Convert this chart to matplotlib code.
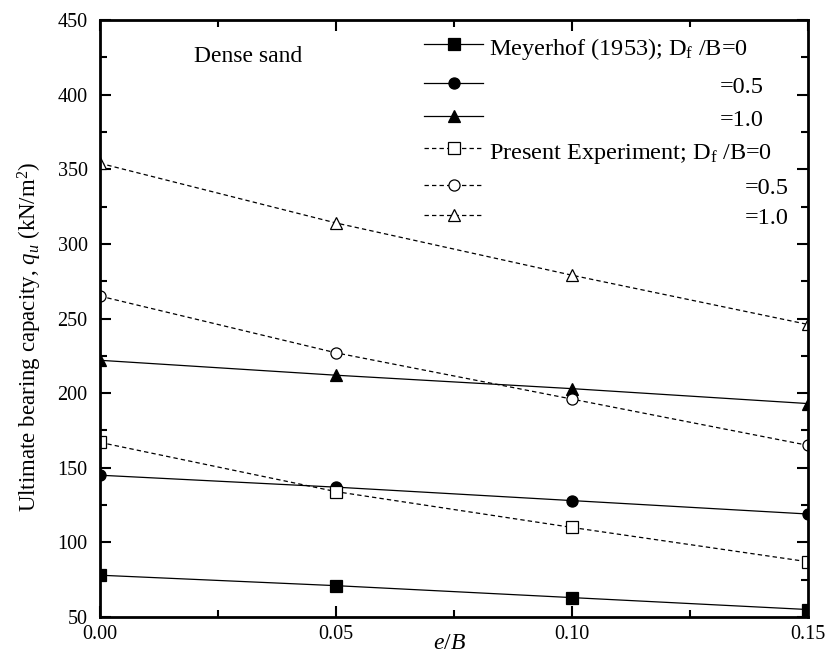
import matplotlib
matplotlib.use("Agg")
import matplotlib.pyplot as plt
from matplotlib.ticker import MultipleLocator, FormatStrFormatter

plt.rcParams['font.family'] = ['Liberation Serif', 'DejaVu Serif']
plt.rcParams['mathtext.fontset'] = 'custom'
plt.rcParams['mathtext.rm'] = 'Liberation Serif'
plt.rcParams['mathtext.it'] = 'Liberation Serif:italic'

eB = [0.0, 0.05, 0.10, 0.15]
mey_0 = [78, 71, 63, 55]
mey_05 = [145, 137, 128, 119]
mey_10 = [222, 212, 203, 193]
exp_0 = [167, 134, 110, 87]
exp_05 = [265, 227, 196, 165]
exp_10 = [354, 314, 279, 246]

fig = plt.figure(figsize=(8.3, 6.64), dpi=100)
ax = fig.add_axes([100/830, 1-617/664, 708/830, 597/664])

ms = 8
lw = 0.9
dash = (0, (3.5, 2.5))
series = [
    (mey_0, 's', 'k', '-'),
    (mey_05, 'o', 'k', '-'),
    (mey_10, '^', 'k', '-'),
    (exp_0, 's', 'white', dash),
    (exp_05, 'o', 'white', dash),
    (exp_10, '^', 'white', dash),
]
for vals, m, fc, ls in series:
    ax.plot(eB, vals, color='k', lw=lw, ls=ls, marker=m, ms=ms + (1 if m == '^' else 0),
            mfc=fc, mec='k', mew=0.9)

ax.set_xlim(0, 0.15)
ax.set_ylim(50, 450)
ax.xaxis.set_major_locator(MultipleLocator(0.05))
ax.xaxis.set_minor_locator(MultipleLocator(0.025))
ax.xaxis.set_major_formatter(FormatStrFormatter('%.2f'))
ax.yaxis.set_major_locator(MultipleLocator(50))
ax.yaxis.set_minor_locator(MultipleLocator(25))
ax.tick_params(which='both', direction='in', top=True, right=True, labelsize=14.5, width=1.5)
ax.tick_params(which='major', length=8, pad=6)
ax.tick_params(axis='y', which='major', pad=9)
ax.tick_params(which='minor', length=5)
for s in ax.spines.values():
    s.set_linewidth(2)

ax.set_xlabel(r'$e$/$B$', fontsize=17)
ax.xaxis.set_label_coords(0.494, -0.044)
ax.xaxis.label.set_va('center')
ax.set_ylabel(r'Ultimate bearing capacity, $q_u$ (kN/m$^2$)', fontsize=16.5)
ax.yaxis.set_label_coords(-0.099, 0.469)
ax.yaxis.label.set_va('center')

ax.text((248-100)/708, (617-57)/597, 'Dense sand', transform=ax.transAxes,
        fontsize=17, ha='center', va='center')

# manual legend (right-aligned labels as in reference)
def ax_xy(px, py):
    return (px-100)/708, (617-py)/597

rows = [44, 83, 116, 148, 185, 215]
text_rows = [46, 85, 118, 150, 186, 216]
labels = [
    ('Meyerhof (1953); D$_\\mathrm{f}$ /B=0', 'left'),
    ('=0.5', 'right'),
    ('=1.0', 'right'),
    ('Present Experiment; D$_\\mathrm{f}$ /B=0', 'left'),
    ('=0.5', 'right'),
    ('=1.0', 'right'),
]
rends = [None, 764, 764, None, 789, 789]
for (vals, m, fc, ls), py, ty, (lab, al), re in zip(series, rows, text_rows, labels, rends):
    x0, y0 = ax_xy(424, py)
    x1, _ = ax_xy(483, py)
    xm, _ = ax_xy(454, py)
    _, yt = ax_xy(0, ty)
    ax.plot([x0, x1], [y0, y0], color='k', lw=lw, ls=ls, transform=ax.transAxes, clip_on=False)
    ax.plot([xm], [y0], marker=m, ms=ms + (1 if m == '^' else 0), mfc=fc, mec='k', mew=0.9,
            transform=ax.transAxes, clip_on=False, ls='none')
    if al == 'left':
        tx, _ = ax_xy(489, py)
        ax.text(tx, yt, lab, transform=ax.transAxes, fontsize=17.5, ha='left', va='center_baseline')
    else:
        tx, _ = ax_xy(re, py)
        ax.text(tx, yt, lab, transform=ax.transAxes, fontsize=17.5, ha='right', va='center_baseline')

fig.savefig('out.png', dpi=100)
